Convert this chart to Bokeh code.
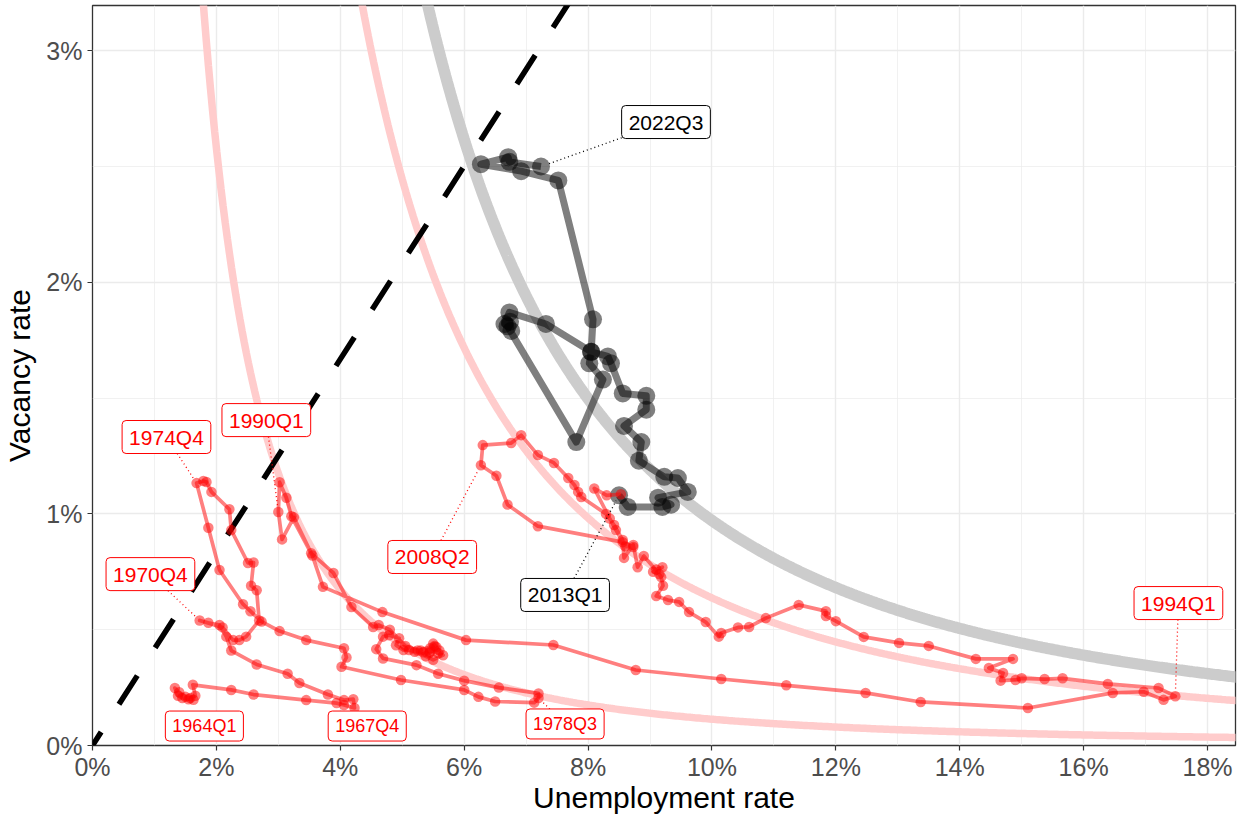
import numpy as np
from bokeh.plotting import figure
from bokeh.models import Range1d, FixedTicker, NumeralTickFormatter, Label
from bokeh.embed import file_html
from bokeh.resources import INLINE

FONT = "Liberation Sans"

# ---------------- data (percent) ----------------
# 1964Q1 .. 2012Q4 (red path)
red_u = [1.63, 1.55, 1.45, 1.38, 1.33, 1.40, 1.50, 1.58, 1.66, 1.62,
         2.24, 2.60, 3.45, 3.94, 4.06, 4.23,
         4.21, 4.06, 3.80, 3.34, 3.15, 2.65, 2.24, 2.16, 2.05, 1.87, 1.73,
         2.10, 2.27, 2.37, 2.48, 2.69, 2.65, 2.56, 2.60, 2.51, 2.24, 2.21, 1.92, 1.84, 1.79, 1.68,
         1.87, 2.05, 2.43, 2.55, 2.73, 3.02, 3.45, 4.06, 4.10, 4.02, 4.98, 6.00, 6.23, 6.50, 7.13, 7.20,
         7.20, 6.56, 6.00, 5.58, 5.23, 4.69, 4.58,
         4.69, 4.79, 4.95, 4.90, 5.02, 5.11, 5.20, 5.34, 5.44, 5.55, 5.50, 5.45, 5.58, 5.66, 5.50,
         5.38, 5.30, 5.45, 5.60, 5.52, 5.25, 5.05, 4.80, 4.62, 4.53,
         4.18, 3.89, 3.53, 3.21, 3.13, 3.02, 3.00, 3.06, 3.25, 3.55,
         3.72, 4.68, 6.03, 7.44, 8.77, 10.15, 11.20, 12.48, 13.37, 15.10, 16.47, 16.97, 17.29, 17.48,
         17.21, 16.39, 15.66, 15.37, 15.00, 14.90, 14.66, 14.70, 14.47, 14.86, 14.26, 13.50, 13.02, 12.45,
         12.00, 11.84, 11.84, 11.40, 10.87, 10.60, 10.42, 10.15, 10.11, 9.90, 9.63, 9.47, 9.29, 9.10,
         9.21, 9.18, 9.10, 9.20, 9.05, 9.15, 8.90, 8.80, 8.73, 8.58, 8.56, 8.42, 8.29, 7.89, 7.84,
         7.78, 7.68, 7.45, 7.19, 6.92, 6.76, 6.30,
         6.27, 6.52, 6.70, 7.19, 8.56, 8.73, 8.60, 8.45, 8.35, 8.10, 8.30, 8.53]
red_v = [0.197, 0.200, 0.205, 0.215, 0.248, 0.230, 0.210, 0.205, 0.215, 0.262,
         0.240, 0.220, 0.196, 0.183, 0.175, 0.162,
         0.200, 0.196, 0.220, 0.270, 0.310, 0.350, 0.410, 0.470, 0.520, 0.530, 0.540,
         0.510, 0.455, 0.455, 0.470, 0.540, 0.670, 0.690, 0.790, 0.788, 0.930, 1.020, 1.095, 1.138, 1.142, 1.133,
         0.940, 0.758, 0.610, 0.580, 0.535, 0.494, 0.455, 0.420, 0.380, 0.340, 0.283, 0.240, 0.210, 0.190, 0.185, 0.205,
         0.225, 0.250, 0.280, 0.310, 0.347, 0.376, 0.416,
         0.470, 0.476, 0.463, 0.433, 0.412, 0.412, 0.405, 0.403, 0.399, 0.425, 0.440, 0.420, 0.399, 0.390, 0.370,
         0.385, 0.410, 0.405, 0.410, 0.430, 0.410, 0.430, 0.500, 0.520, 0.512,
         0.598, 0.745, 0.830, 0.990, 1.070, 1.137, 1.008, 0.890, 0.985, 0.820,
         0.685, 0.576, 0.455, 0.434, 0.326, 0.287, 0.260, 0.227, 0.188, 0.162, 0.227, 0.232, 0.197, 0.213,
         0.248, 0.266, 0.290, 0.287, 0.290, 0.283, 0.280, 0.313, 0.335, 0.374, 0.374, 0.430, 0.443, 0.469,
         0.537, 0.559, 0.580, 0.607, 0.550, 0.512, 0.510, 0.486, 0.470, 0.533, 0.576, 0.620, 0.628, 0.645,
         0.690, 0.727, 0.760, 0.770, 0.750, 0.740, 0.818, 0.770, 0.866, 0.810, 0.887, 0.952, 1.000, 1.073, 1.095,
         1.125, 1.155, 1.220, 1.254, 1.340, 1.306, 1.297,
         1.210, 1.165, 1.040, 0.947, 0.878, 0.857, 0.860, 0.930, 0.980, 1.110, 1.080, 1.085]

# 2013Q1 .. 2022Q3 (black path)
blk_u = [8.50, 8.64, 9.20, 9.34, 9.13, 9.61, 9.45, 9.23, 8.82, 8.86, 8.58, 8.94, 8.94, 8.56,
         8.37, 8.32, 8.05, 7.32, 6.73, 6.65, 6.74, 6.76, 6.70, 7.81, 8.24, 8.02, 8.05, 8.08,
         7.52, 6.92, 6.27, 6.71, 6.73, 7.24]
blk_v = [1.080, 1.030, 1.030, 1.040, 1.070, 1.095, 1.155, 1.160, 1.230, 1.310, 1.380, 1.450, 1.510, 1.520,
         1.650, 1.680, 1.700, 1.820, 1.870, 1.820, 1.830, 1.790, 1.810, 1.310, 1.580, 1.650, 1.700, 1.840,
         2.440, 2.480, 2.510, 2.540, 2.520, 2.500]

# reference curves v = A * u^-b (percent units) and dashed ray v = slope * u
curve_A = [9.9, 55.5, 84.6]
curve_b = 1.94
dash_slope = 0.417

# annotations: text, series, anchor point (u, v), label centre (u, v), font px
ann_text = ["1964Q1", "1967Q4", "1970Q4", "1974Q4", "1978Q3", "1990Q1", "1994Q1", "2008Q2", "2013Q1", "2022Q3"]
ann_series = ["red", "red", "red", "red", "red", "red", "red", "red", "black", "black"]
ann_point = [(1.63, 0.197), (4.23, 0.162), (1.73, 0.540), (1.68, 1.133), (7.20, 0.205),
             (3.00, 1.008), (17.48, 0.213), (6.27, 1.210), (8.50, 1.080), (7.24, 2.500)]
ann_pos = [(1.806, 0.084), (4.435, 0.084), (0.935, 0.740), (1.194, 1.332), (7.629, 0.093),
           (2.806, 1.405), (17.53, 0.615), (5.484, 0.814), (7.629, 0.650), (9.258, 2.692)]
ann_size = [18, 18, 21, 21, 18, 21, 21, 21, 21, 21]

# ---------------- layout ----------------
W, H = 1239, 817
ML, MR, MT, MB = 91, 4, 5, 72
FW, FH = W - ML - MR, H - MT - MB
PXU = 62.0      # px per 1 % of unemployment
PXV = 231.6     # px per 1 % of vacancies
XMAX = FW / PXU
YMAX = FH / PXV

p = figure(width=W, height=H, x_range=Range1d(0, XMAX / 100), y_range=Range1d(0, YMAX / 100),
           output_backend="svg", toolbar_location=None,
           min_border_left=ML, min_border_right=MR, min_border_top=MT, min_border_bottom=MB)
p.background_fill_color = "white"
p.border_fill_color = "white"
p.outline_line_color = "#333333"
p.outline_line_width = 1.3

xt = FixedTicker(ticks=[i / 100 for i in range(0, 19, 2)], minor_ticks=[i / 100 for i in range(1, 19, 2)])
yt = FixedTicker(ticks=[i / 100 for i in range(0, 4)], minor_ticks=[0.005, 0.015, 0.025])
p.xaxis.ticker = xt
p.yaxis.ticker = yt
p.xgrid.ticker = xt
p.ygrid.ticker = yt
for g in (p.xgrid, p.ygrid):
    g.grid_line_color = "#ebebeb"
    g.grid_line_width = 1.4
    g.minor_grid_line_color = "#ebebeb"
    g.minor_grid_line_width = 0.7

for ax in (p.xaxis, p.yaxis):
    ax.formatter = NumeralTickFormatter(format="0%")
    ax.axis_line_color = None
    ax.major_tick_in = 0
    ax.major_tick_out = 5
    ax.major_tick_line_color = "#333333"
    ax.major_tick_line_width = 1.2
    ax.minor_tick_line_color = None
    ax.major_label_text_font = FONT
    ax.major_label_text_font_size = "25px"
    ax.major_label_text_color = "#4d4d4d"
    ax.axis_label_text_font = FONT
    ax.axis_label_text_font_size = "30px"
    ax.axis_label_text_font_style = "normal"
    ax.axis_label_text_color = "black"

p.xaxis.axis_label = "Unemployment rate"
p.yaxis.axis_label = "Vacancy rate"
p.xaxis.major_label_standoff = 2
p.xaxis.axis_label_standoff = -3
p.yaxis.major_label_standoff = 5
p.yaxis.axis_label_standoff = 7

# reference curves
curve_colors = ["#ffcccc", "#ffcccc", "#cccccc"]
curve_widths = [7.5, 7.5, 11.5]
for A, c, w in zip(curve_A, curve_colors, curve_widths):
    u0 = (A / 3.4) ** (1 / curve_b)
    uu = np.linspace(u0, 18.7, 500)
    vv = A * uu ** (-curve_b)
    p.line(uu / 100, vv / 100, line_color=c, line_width=w)

# dashed ray
p.line([0, 8.0 / 100], [0, 8.0 * dash_slope / 100], line_color="black", line_width=5.5,
       line_dash="34 33", line_dash_offset=18)

# black path (2013-2022)
bu = np.array(blk_u) / 100
bv = np.array(blk_v) / 100
p.line(bu, bv, line_color="black", line_alpha=0.5, line_width=7, line_join="round")
p.scatter(bu, bv, size=18, fill_color="black", fill_alpha=0.5, line_color=None)

# red path (1964-2012)
ru = np.array(red_u) / 100
rv = np.array(red_v) / 100
p.line(ru, rv, line_color="red", line_alpha=0.5, line_width=3.7, line_join="round")
p.scatter(ru, rv, size=10.5, fill_color="red", fill_alpha=0.5, line_color=None)

# labels with dotted leaders
for txt, ser, (pu, pv), (cu, cv), fs in zip(ann_text, ann_series, ann_point, ann_pos, ann_size):
    col = "red" if ser == "red" else "black"
    hw = 0.5 * 3.56 * fs + 7
    hh = 0.5 * 1.1 * fs + 5
    dx = (pu - cu) * PXU
    dy = (pv - cv) * PXV
    L = (dx * dx + dy * dy) ** 0.5
    tb = min(hw / abs(dx) if dx else 1e9, hh / abs(dy) if dy else 1e9)
    te = 1 - 6 / L
    if (te - tb) * L > 8:
        p.line([(cu + tb * (pu - cu)) / 100, (cu + te * (pu - cu)) / 100],
               [(cv + tb * (pv - cv)) / 100, (cv + te * (pv - cv)) / 100],
               line_color=col, line_width=1.3, line_dash="1 3")
    p.add_layout(Label(x=cu / 100, y=cv / 100, text=txt, text_align="center", text_baseline="middle",
                       text_font=FONT, text_font_size=f"{fs}px", text_color=col,
                       background_fill_color="white", border_line_color=col, border_line_width=1,
                       padding=(7, 5), border_radius=4))

open("out.html", "w").write(file_html(p, INLINE))
